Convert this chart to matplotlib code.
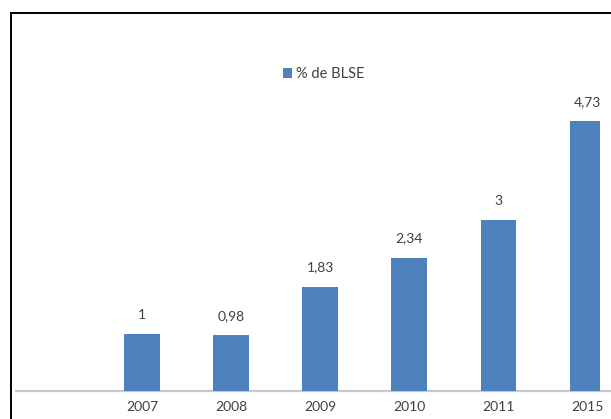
import matplotlib.pyplot as plt
from matplotlib.lines import Line2D

# data
years = ['2007', '2008', '2009', '2010', '2011', '2015']
blse = [1, 0.98, 1.83, 2.34, 3, 4.73]
value_labels = ['1', '0,98', '1,83', '2,34', '3', '4,73']

plt.rcParams['font.family'] = ['Lato', 'DejaVu Sans']

W, H = 611, 419
fig = plt.figure(figsize=(W / 100, H / 100), dpi=100)
fig.patch.set_facecolor('white')

# axes placed in pixel terms: axis line at y=391, starts at x=16
ax = fig.add_axes([16 / W, (H - 391) / H, (600 - 16) / W, (391 - 60) / H])
ax.patch.set_visible(False)

pos = list(range(1, len(years) + 1))
bars = ax.bar(pos, blse, width=0.4, color='#4F81BD', label='% de BLSE', zorder=2)

for p, v, t in zip(pos, blse, value_labels):
    ax.annotate(t, (p, v), xytext=(0, 14), textcoords='offset points',
                ha='center', va='center', fontsize=10, color='#404040')

# x range chosen so the bars sit ~89 px apart with an empty slot on the left
ax.set_xlim(-0.414, 1 + (600 - 142) / 89.1)
ax.set_ylim(0, 331 / 57)
ax.set_xticks(pos)
ax.set_xticklabels(years, fontsize=10, color='#404040')
ax.set_yticks([])
ax.tick_params(axis='x', length=0, pad=7)
for s in ['top', 'right', 'left', 'bottom']:
    ax.spines[s].set_visible(False)
# axis line runs on to the cropped right edge
ax.axhline(0, xmin=0, xmax=(611 - 16) / (600 - 16), color='#C8C8C8', lw=1.6,
           clip_on=False, zorder=1)

fig.legend(handles=[bars], loc='center', bbox_to_anchor=(323.5 / W, (H - 74) / H),
           frameon=False, fontsize=10.5, handlelength=0.65, handleheight=0.65,
           handletextpad=0.25, labelcolor='#404040')

# black frame (left and top edges visible, the rest is cropped)
fig.add_artist(Line2D([10.5 / W, 10.5 / W], [0, (H - 13) / H], color='black', lw=1.4,
                      transform=fig.transFigure))
fig.add_artist(Line2D([10.5 / W, 1], [(H - 13) / H, (H - 13) / H], color='black', lw=1.4,
                      transform=fig.transFigure))

fig.savefig('out.png', dpi=100)
